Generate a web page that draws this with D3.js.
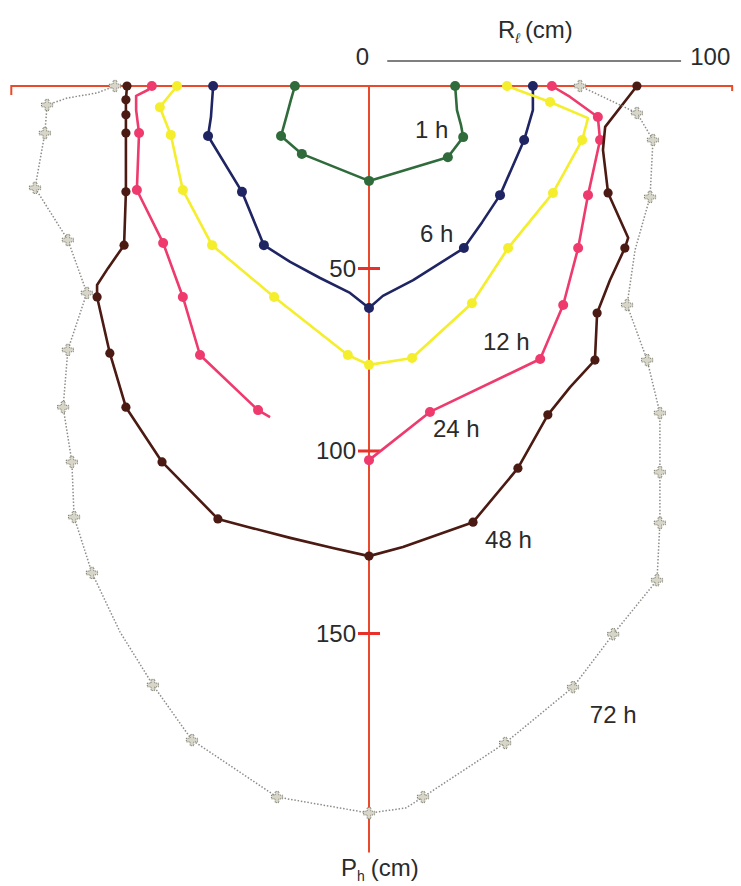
<!DOCTYPE html>
<html>
<head>
<meta charset="utf-8">
<script src="https://cdn.jsdelivr.net/npm/d3@7"></script>
<style>
  body { margin: 0; background: #fff; }
  text { font-family: "Liberation Sans", Arial, Helvetica, sans-serif; fill: #2b2b2b; }
</style>
</head>
<body>
<div class="chart"></div>
<script>
// wetting front profiles, R (cm) across, P (cm) down, m = marked point
const h1 = [[-20.3,0,1],[-21.4,3.8,0],[-22.5,7.9,0],[-24.1,13.7,1],[-18.4,18.6,1],[0,26.0,1],
  [21.6,19.5,1],[25.8,14.0,1],[25.2,10.7,0],[24.1,6.6,0],[23.6,0,1]]
const h6 = [[-42.7,0,1],[-43.3,8.5,0],[-44.1,13.7,1],[-34.8,29.0,1],[-28.8,43.6,1],[-21.6,48.2,0],
  [-13.4,52.6,0],[-5.2,56.7,0],[0,60.8,1],[3.8,57.5,0],[12.1,53.2,0],[26.0,44.4,1],[31.0,37.3,0],
  [35.9,29.9,1],[42.5,14.8,1],[44.9,6.6,0],[44.9,0,1]]
const h12 = [[-52.6,0,1],[-57.3,5.8,1],[-54.3,13.4,1],[-51.0,28.5,1],[-43.0,43.6,1],[-26.0,57.8,1],
  [-5.8,73.7,1],[0,76.4,1],[11.8,74.5,1],[28.2,59.5,1],[38.1,44.4,1],[50.4,29.3,1],[58.4,14.8,1],
  [60.0,8.8,0],[49.6,4.4,1],[37.8,0,1]]
const h24 = [[-59.5,0,1],[-60.6,1.1,0],[-63.8,2.7,0],[-63.8,6.6,0],[-63.0,12.9,1],[-63.6,28.5,1],
  [-56.4,43.0,1],[-51.0,57.8,1],[-46.3,73.7,1],[-30.4,88.8,1],[-27.1,90.7,0],null,
  [0,102.5,1],[16.7,89.3,1],[46.9,74.8,1],[53.2,60.0,1],[57.3,44.4,1],[60.0,29.9,1],[63.3,14.8,1],
  [62.7,8.5,1],[55.1,3.0,0],[50.1,0,1]]
const h48 = [[-66.3,0,1],[-66.6,3.8,1],[-66.6,7.9,1],[-66.6,12.9,1],[-66.6,29.0,1],[-67.1,43.6,1],
  [-71.5,49.9,0],[-74.5,54.5,0],[-74.5,57.8,1],[-71.0,73.2,1],[-66.6,88.0,1],[-56.7,103.0,1],
  [-41.4,118.6,1],[-33.2,120.8,0],[-21.6,123.8,0],[-9.9,126.6,0],[0,128.8,1],[9.3,126.3,0],
  [28.5,119.5,1],[40.8,104.7,1],[49.0,90.1,1],[55.1,82.5,0],[61.9,75.1,1],[62.5,62.2,1],
  [66.0,53.2,0],[70.1,44.4,1],[71.0,41.6,0],[65.5,29.3,1],[64.1,17.5,0],[64.7,11.2,0],[73.4,0,1]]
const h72 = [[-69.6,0,1],[-74.5,1.9,0],[-82.7,3.3,0],[-88.2,5.2,1],[-88.8,12.9,1],[-91.5,27.9,1],
  [-82.5,42.2,1],[-77.3,56.7,1],[-82.5,72.3,1],[-83.8,88.0,1],[-81.4,103.0,1],[-80.8,118.1,1],
  [-75.9,133.4,1],[-68.2,149.6,0],[-59.2,164.1,1],[-48.5,179.2,1],[-25.2,194.8,1],[0,199.2,1],
  [10.1,197.8,0],[14.8,194.8,1],[37.3,180.0,1],[55.9,164.7,1],[66.9,150.2,1],[78.9,135.4,1],
  [79.7,119.7,1],[79.7,105.8,1],[79.7,89.6,1],[76.2,75.1,1],[70.7,60.0,1],[72.9,44.9,0],
  [77.0,30.4,1],[77.8,14.8,1],[73.4,7.4,1],[57.8,0,1]]

const curveNames = ["1 h", "6 h", "12 h", "24 h", "48 h", "72 h"]
const curveColors = ["#2f6b3b", "#1f2563", "#f4ee2c", "#ee3a6d", "#4b1a12", "#8c8c88"]
const labelPos = [[12.6,14.2],[14.0,42.7],[31.2,72.3],[17.5,96.2],[31.8,126.6],[60.5,174.5]]
const pTicks = [50, 100, 150]

const width = 741, height = 886

var svg = d3.select(".chart").append("svg")
  .attr("width", width)
  .attr("height", height)

var x = d3.scaleLinear().domain([-100, 100]).range([4, 734])
var y = d3.scaleLinear().domain([0, 150]).range([86, 633.5])

// axes (orange red)
var axisColor = "#ea4a2c"
svg.append("path")
  .attr("d", `M${x(-98)},${y(0)+9}V${y(0)}H${x(99.5)}V${y(0)+5}`)
  .attr("fill", "none").attr("stroke", axisColor).attr("stroke-width", 2)
svg.append("line")
  .attr("x1", x(0)).attr("x2", x(0))
  .attr("y1", y(0)).attr("y2", y(210))
  .attr("stroke", axisColor).attr("stroke-width", 2)

svg.append("g").selectAll("line")
  .data(pTicks).enter().append("line")
  .attr("x1", x(0) - 11).attr("x2", x(0) + 11)
  .attr("y1", d => y(d)).attr("y2", d => y(d))
  .attr("stroke", "#e8312a").attr("stroke-width", 3)

svg.append("g").selectAll("text")
  .data(pTicks).enter().append("text")
  .attr("x", x(0) - 13)
  .attr("y", d => y(d) + 8)
  .attr("text-anchor", "end")
  .attr("font-size", 24)
  .text(d => d)

// top scale bar
svg.append("line")
  .attr("x1", x(5)).attr("x2", x(85.5))
  .attr("y1", 61).attr("y2", 61)
  .attr("stroke", "#555").attr("stroke-width", 1.5)
svg.append("text").attr("x", x(0)).attr("y", 65).attr("text-anchor", "end")
  .attr("font-size", 24).text("0")
svg.append("text").attr("x", x(88)).attr("y", 65)
  .attr("font-size", 24).text("100")

var rl = svg.append("text").attr("x", 498).attr("y", 38).attr("font-size", 24)
rl.append("tspan").text("R")
rl.append("tspan").attr("font-size", 14).attr("dy", 5).attr("font-style", "italic").text("ℓ")
rl.append("tspan").attr("dy", -5).attr("dx", 5).text("(cm)")

var ph = svg.append("text").attr("x", 341).attr("y", 876).attr("font-size", 24)
ph.append("tspan").text("P")
ph.append("tspan").attr("font-size", 14).attr("dy", 5).text("h")
ph.append("tspan").attr("dy", -5).attr("dx", 6).text("(cm)")

// curves
var line = d3.line()
  .defined(d => d !== null)
  .x(d => x(d[0]))
  .y(d => y(d[1]))

var series = [h1, h6, h12, h24, h48, h72]

series.forEach((s, i) => {
  var grey = i === 5
  svg.append("path")
    .datum(s)
    .attr("d", line)
    .attr("fill", "none")
    .attr("stroke", curveColors[i])
    .attr("stroke-width", grey ? 1.5 : 2.6)
    .attr("stroke-dasharray", grey ? "1.5,1.8" : null)
    .attr("stroke-linejoin", "round")

  var pts = s.filter(d => d !== null && d[2] === 1)
  if (grey) {
    svg.append("g").selectAll("path")
      .data(pts).enter().append("path")
      .attr("d", d3.symbol(d3.symbolCross, 70))
      .attr("transform", d => `translate(${x(d[0])},${y(d[1])})`)
      .attr("fill", "#d8d6c8")
      .attr("stroke", "#77776a")
      .attr("stroke-width", 1)
      .attr("stroke-dasharray", "1,1")
  } else {
    svg.append("g").selectAll("circle")
      .data(pts).enter().append("circle")
      .attr("cx", d => x(d[0]))
      .attr("cy", d => y(d[1]))
      .attr("r", i === 4 ? 4.6 : 5)
      .attr("fill", curveColors[i])
  }
})

svg.append("g").selectAll("text.lab")
  .data(curveNames).enter().append("text")
  .attr("class", "lab")
  .attr("x", (d, i) => x(labelPos[i][0]))
  .attr("y", (d, i) => y(labelPos[i][1]))
  .attr("font-size", 24)
  .text(d => d)
</script>
</body>
</html>
